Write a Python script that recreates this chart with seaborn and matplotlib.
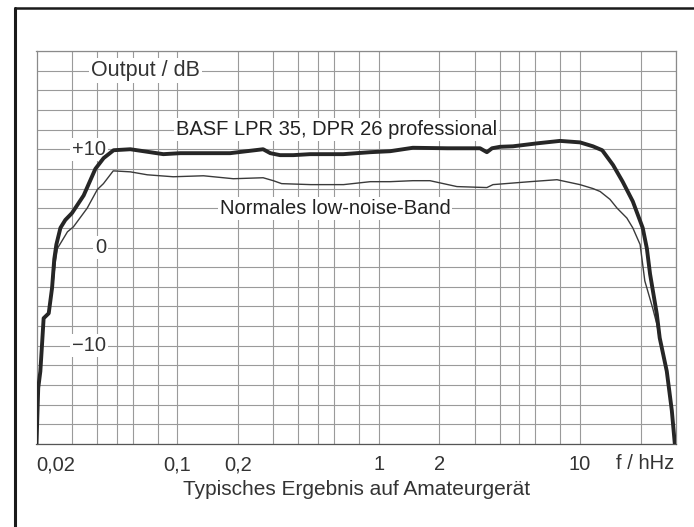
import numpy as np
import pandas as pd
import matplotlib
matplotlib.use('Agg')
import matplotlib.pyplot as plt
from matplotlib.lines import Line2D
import seaborn as sns

# Frequency response (f in hHz, output in dB)
pro_freq = [0.020, 0.0204, 0.0209, 0.0213, 0.0217, 0.0230, 0.0239, 0.0245, 0.0251,
            0.0263, 0.0278, 0.0300, 0.0343, 0.0392, 0.0431, 0.0483, 0.0585, 0.0853,
            0.1035, 0.135, 0.183, 0.267, 0.290, 0.324, 0.377, 0.457, 0.667, 0.908,
            1.14, 1.48, 2.19, 3.19, 3.45, 3.66, 4.01, 4.65, 6.12, 7.96, 10.0, 11.6,
            12.9, 14.6, 16.3, 18.3, 20.5, 21.5, 22.3, 24.1, 24.9, 27.0, 28.6, 29.6]
pro_db = [-20, -14.3, -12.6, -9.9, -7.2, -6.7, -4.1, -1.2, 0.3,
          2.0, 2.8, 3.5, 5.3, 8.0, 9.1, 9.9, 10.0, 9.5,
          9.6, 9.6, 9.6, 10.0, 9.6, 9.4, 9.4, 9.5, 9.5, 9.7,
          9.8, 10.15, 10.1, 10.1, 9.7, 10.1, 10.25, 10.3, 10.6, 10.85, 10.7, 10.3,
          9.9, 8.4, 6.7, 4.7, 2.0, -0.1, -2.7, -6.8, -9.2, -12.6, -16.6, -20]

std_freq = [0.020, 0.0204, 0.0209, 0.0213, 0.0217, 0.0230, 0.0240, 0.0248, 0.0254,
            0.0285, 0.0305, 0.0357, 0.0401, 0.0430, 0.0481, 0.0585, 0.071, 0.0955,
            0.135, 0.19, 0.267, 0.30, 0.33, 0.46, 0.67, 0.91, 1.14, 1.48, 1.80,
            2.45, 3.45, 3.70, 5.65, 7.69, 10.0, 11.6, 12.6, 14.1, 15.3, 17.1, 18.3,
            19.9, 21.0, 23.0, 24.1, 24.9, 27.0, 28.6, 29.6]
std_db = [-20, -14.5, -12.7, -10.0, -7.3, -6.8, -4.2, -1.5, -0.1,
          1.6, 2.1, 4.0, 5.9, 6.5, 7.8, 7.7, 7.4, 7.2,
          7.3, 7.0, 7.1, 6.8, 6.5, 6.4, 6.4, 6.7, 6.7, 6.8, 6.8,
          6.2, 6.1, 6.4, 6.7, 6.9, 6.4, 6.0, 5.7, 4.9, 4.0, 3.0, 2.0,
          0.3, -3.4, -6.2, -7.8, -9.4, -12.7, -16.6, -20]

x_labels = ["0,02", "0,1", "0,2", "1", "2", "10"]
x_label_pos = [0.02, 0.1, 0.2, 1, 2, 10]
x_grid = [0.02, 0.03, 0.04, 0.05, 0.06, 0.08, 0.1, 0.2, 0.3, 0.4, 0.5, 0.6, 0.8,
          1, 2, 3, 4, 5, 6, 8, 10, 20, 30]
y_grid = list(range(-20, 21, 2))
y_labels = {10: "+10", 0: "0", -10: "\u221210"}

sns.set_style("white")
plt.rcParams['font.family'] = ['Liberation Sans', 'DejaVu Sans']

ink = '#262626'
txt = '#333333'
fig = plt.figure(figsize=(6.94, 5.27), dpi=100)
ax = fig.add_axes([36.5 / 694, 1 - 444 / 527, (676 - 36.5) / 694, (444 - 51) / 527])

df_pro = pd.DataFrame({'f': pro_freq, 'db': pro_db})
df_std = pd.DataFrame({'f': std_freq, 'db': std_db})
sns.lineplot(data=df_std, x='f', y='db', sort=False, estimator=None,
             color='#3a3a3a', linewidth=1.0, ax=ax, zorder=4)
sns.lineplot(data=df_pro, x='f', y='db', sort=False, estimator=None,
             color=ink, linewidth=2.8, ax=ax, zorder=5)

ax.set_xscale('log')
ax.set_xticks(x_grid, minor=True)
ax.set_xticks(x_label_pos)
ax.set_xticklabels(x_labels)
ax.xaxis.set_minor_formatter(matplotlib.ticker.NullFormatter())
ax.set_yticks(y_grid, minor=True)
ax.set_yticks([])
ax.set_xlim(0.02, 30)
ax.set_ylim(-20, 20)
ax.grid(which='both', color='#9a9a9a', linewidth=0.8)
ax.set_axisbelow(True)
ax.tick_params(which='both', length=0)
ax.tick_params(axis='x', pad=8, labelsize=14.5, labelcolor=txt)
ax.get_xticklabels()[0].set_horizontalalignment('left')

for s in ax.spines.values():
    s.set_color('#8a8a8a')
    s.set_linewidth(0.9)
ax.spines['bottom'].set_color('#555555')

ax.set_xlabel("Typisches Ergebnis auf Amateurgerät", fontsize=15, color=txt)
ax.xaxis.set_label_coords(0.5, -0.092)
ax.set_ylabel("")

box = dict(facecolor='white', edgecolor='none', pad=1.5)
for v, lab in y_labels.items():
    ax.text(0.0445, v, lab, ha='right', va='center', fontsize=14.5, color=txt,
            bbox=box, zorder=3)
ax.text(0.0375, 18, "Output / dB", ha='left', va='center', fontsize=15.5,
        color=txt, bbox=box, zorder=3)
ax.text(0.62, 12, "BASF LPR 35, DPR 26 professional", ha='center', va='center',
        fontsize=14.5, color='#222222', bbox=box, zorder=3)
ax.text(0.607, 4, "Normales low-noise-Band", ha='center', va='center',
        fontsize=14.5, color='#222222', bbox=box, zorder=3)
ax.text(21, -0.05, "f / hHz", transform=ax.get_xaxis_transform(), ha='center',
        va='center', fontsize=14.5, color=txt)

# scanned page frame
fig.add_artist(Line2D([15 / 694, 15 / 694], [0, 1 - 8 / 527], transform=fig.transFigure,
                      color='#1a1a1a', linewidth=2.2))
fig.add_artist(Line2D([15 / 694, 1], [1 - 8 / 527, 1 - 8 / 527], transform=fig.transFigure,
                      color='#1a1a1a', linewidth=1.8))

fig.savefig('out.png', dpi=100)
